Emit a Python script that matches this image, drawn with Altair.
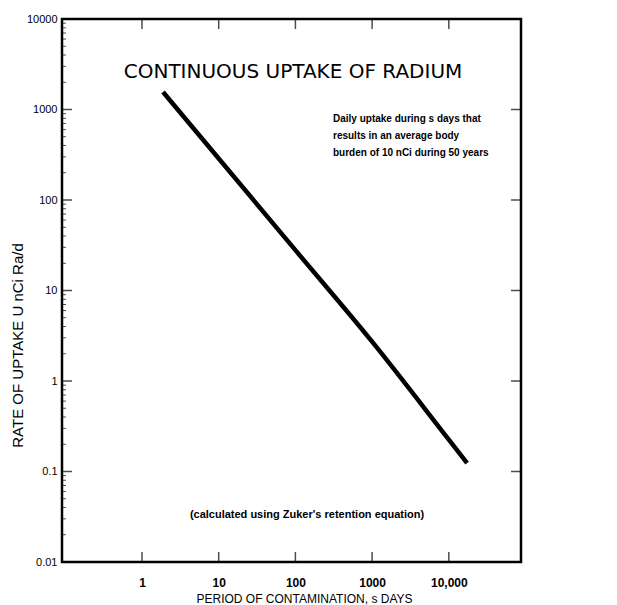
import altair as alt
import pandas as pd

# curve
period_days = [1.88, 10, 100, 1000, 10000, 17300]
uptake = [1560, 287, 27.9, 2.72, 0.225, 0.124]

y_major = [10000, 1000, 100, 10, 1, 0.1, 0.01]
y_major_labels = ["10000", "1000", "100", "10", "1", "0.1", "0.01"]
x_major = [1, 10, 100, 1000, 10000]
x_major_labels = ["1", "10", "100", "1000", "10,000"]

title_text = "CONTINUOUS  UPTAKE  OF  RADIUM"
note_text = "Daily uptake during s days that\nresults in an average body\nburden of 10 nCi during 50 years"
footer_text = "(calculated using Zuker's retention equation)"

W, H = 459, 543
XDOM = [0.0906, 87300]
YDOM = [0.01, 10000]
FONT = "Liberation Sans"

curve_df = pd.DataFrame({"s": period_days, "u": uptake})
xs = alt.Scale(type="log", domain=XDOM, nice=False)
ys = alt.Scale(type="log", domain=YDOM, nice=False)

ylab_expr = "{" + ",".join(f"'{v}':'{l}'" for v, l in zip(y_major, y_major_labels)) + "}"
xlab_expr = "{" + ",".join(f"'{v}':'{l}'" for v, l in zip(x_major, x_major_labels)) + "}"

x_axis = alt.Axis(
    values=x_major, labelExpr=f"{xlab_expr}[datum.value] || datum.label",
    title="PERIOD OF CONTAMINATION, s DAYS", ticks=False, domain=False, grid=False,
    labelFont=FONT, labelFontSize=12, labelFontWeight="bold", labelColor="black",
    labelPadding=15, titleFont=FONT, titleFontSize=12, titleFontWeight="normal",
    titleColor="black", titleX=242, titleY=36, titleAlign="center", titleBaseline="middle")
y_axis = alt.Axis(
    values=y_major, labelExpr=f"{ylab_expr}[datum.value] || datum.label",
    title="RATE OF UPTAKE U nCi Ra/d", ticks=False, domain=False, grid=False,
    labelFont=FONT, labelFontSize=11, labelColor="black", labelPadding=5,
    titleFont=FONT, titleFontSize=15, titleFontWeight="normal", titleColor="black",
    titleX=-45, titleY=326, titleAngle=270, titleAlign="center", titleBaseline="middle")

curve = alt.Chart(curve_df).mark_line(color="black", strokeWidth=4.5, interpolate="monotone").encode(
    x=alt.X("s:Q", scale=xs, axis=x_axis),
    y=alt.Y("u:Q", scale=ys, axis=y_axis),
)

# frame ticks
ymaj_df = pd.DataFrame({"u": y_major})
y_minor = [m * 10 ** e for e in range(-2, 4) for m in range(2, 10)]
ymin_df = pd.DataFrame({"u": y_minor})
xmaj_df = pd.DataFrame({"s": x_major})

left_major = alt.Chart(ymaj_df).mark_tick(color="black", orient="horizontal", size=10, thickness=1.5).encode(
    y=alt.Y("u:Q", scale=ys, axis=y_axis), x=alt.value(5))
left_minor = alt.Chart(ymin_df).mark_tick(color="black", orient="horizontal", size=4, thickness=1).encode(
    y=alt.Y("u:Q", scale=ys, axis=y_axis), x=alt.value(2))
right_major = alt.Chart(ymaj_df).mark_tick(color="black", orient="horizontal", size=10, thickness=1.5).encode(
    y=alt.Y("u:Q", scale=ys, axis=y_axis), x=alt.value(W - 5))
bottom_major = alt.Chart(xmaj_df).mark_tick(color="black", orient="vertical", size=10, thickness=1.5).encode(
    x=alt.X("s:Q", scale=xs, axis=x_axis), y=alt.value(H - 5))
top_major = alt.Chart(xmaj_df).mark_tick(color="black", orient="vertical", size=10, thickness=1.5).encode(
    x=alt.X("s:Q", scale=xs, axis=x_axis), y=alt.value(5))

title_mark = alt.Chart(pd.DataFrame({"t": [title_text]})).mark_text(
    font="DejaVu Sans", fontSize=20, color="black", align="center", baseline="middle").encode(
    text="t:N", x=alt.value(231), y=alt.value(53))

note_mark = alt.Chart(pd.DataFrame({"t": [note_text]})).mark_text(
    font=FONT, fontSize=10, fontWeight="bold", color="black", align="left", baseline="middle",
    lineBreak="\n", lineHeight=17).encode(
    text="t:N", x=alt.value(271), y=alt.value(100))

footer_mark = alt.Chart(pd.DataFrame({"t": [footer_text]})).mark_text(
    font=FONT, fontSize=11, fontWeight="bold", color="black", align="center", baseline="middle").encode(
    text="t:N", x=alt.value(245), y=alt.value(496))

chart = alt.layer(curve, left_major, left_minor, right_major, bottom_major, top_major,
                  title_mark, note_mark, footer_mark).properties(
    width=W, height=H,
    background="white",
    autosize=alt.AutoSizeParams(type="none"),
    padding={"left": 54, "top": 11, "right": 10, "bottom": 50},
).configure_view(stroke="black", strokeWidth=2.5)

chart.save("out.html", embed_options={"renderer": "svg", "actions": False})
